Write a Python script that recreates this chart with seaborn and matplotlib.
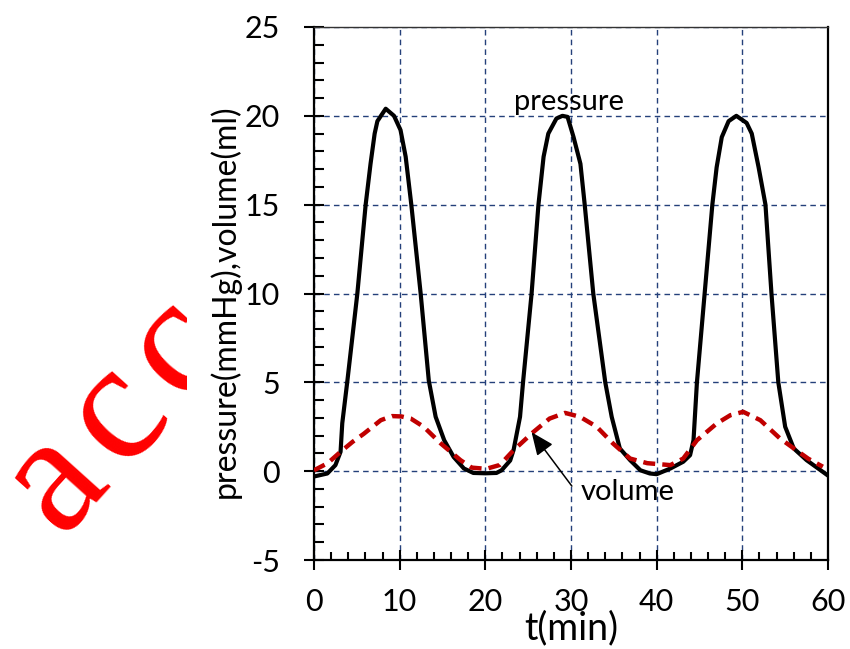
import matplotlib
matplotlib.use("Agg")
import matplotlib.pyplot as plt
from matplotlib.ticker import MultipleLocator
from matplotlib.transforms import Bbox, TransformedBbox
import seaborn as sns
import pandas as pd

# pressure trace (mmHg) over time (min)
pressure_t = [0, 1.56, 2.5, 3.1, 3.3, 3.9, 5.06, 6.03, 6.6, 7.08, 7.4, 8.37, 9.34, 10.1,
              10.7, 11.36, 12.45, 13.4, 14.2, 15.2, 16.3, 17.5, 18.6, 20.0, 21.3, 21.9,
              22.9, 23.3, 24.05, 24.4, 25.4, 26.2, 26.8, 27.35, 28.3, 29.0, 29.6, 30.3,
              31.1, 31.6, 32.6, 34.0, 34.75, 35.7, 36.9, 38.1, 39.2, 40.0, 41.6,
              43.1, 43.9, 44.3, 44.7, 45.6, 46.5, 47.0, 47.6, 48.4, 49.3, 50.5, 51.1,
              51.9, 52.7, 53.4, 54.2, 55.0, 56.0, 57.5, 59.0, 60.0]
pressure = [-0.3, -0.13, 0.34, 1.09, 2.7, 5.1, 10.0, 15.0, 17.3, 19.0, 19.7, 20.4, 20.0, 19.2,
            17.7, 15.0, 10.0, 5.1, 3.06, 1.74, 0.8, 0.15, -0.1, -0.12, -0.1, 0.05,
            0.6, 1.2, 3.06, 5.0, 10.0, 15.0, 17.7, 19.0, 19.85, 20.0, 19.94, 18.8,
            17.3, 15.0, 10.0, 5.0, 3.06, 1.28, 0.62, 0.05, -0.13, -0.17, 0.15,
            0.53, 0.9, 1.74, 5.0, 10.0, 15.0, 17.1, 18.8, 19.7, 20.0, 19.6, 19.0,
            17.1, 15.0, 10.0, 5.0, 2.5, 1.28, 0.62, 0.1, -0.25]

# volume trace (ml) over time (min)
volume_t = [0, 1.6, 3.1, 4.5, 5.8, 7.8, 9.1, 10.2, 11.3, 12.8, 14.8, 17.1, 18.4, 20.1,
            21.7, 23.3, 25.6, 27.5, 29.3, 31.05, 33.0, 34.9, 36.9, 38.9, 41.6, 43.1,
            44.7, 47.0, 48.6, 50.1, 52.1, 54.4, 56.3, 57.7, 59.4]
volume = [0.05, 0.45, 1.09, 1.65, 2.1, 2.87, 3.1, 3.08, 2.96, 2.5, 1.56, 0.62, 0.2, 0.13,
          0.35, 1.18, 2.2, 2.96, 3.28, 3.06, 2.5, 1.56, 0.71, 0.45, 0.34, 0.71,
          1.74, 2.68, 3.15, 3.34, 2.87, 1.84, 1.18, 0.7, 0.25]

x_ticks = [0, 10, 20, 30, 40, 50, 60]
y_ticks = [-5, 0, 5, 10, 15, 20, 25]

sns.set_theme(style="white")
plt.rcParams["font.family"] = ["Lato", "DejaVu Sans"]
plt.rcParams["axes.unicode_minus"] = False

fig = plt.figure(figsize=(8.5, 6.49), dpi=100)
ax = fig.add_axes([314 / 850, 1 - 560 / 649, (828 - 314) / 850, (560 - 27) / 649])

df_p = pd.DataFrame({"t": pressure_t, "v": pressure})
df_v = pd.DataFrame({"t": volume_t, "v": volume})

sns.lineplot(data=df_p, x="t", y="v", ax=ax, color="black", lw=3.0, zorder=3)
sns.lineplot(data=df_v, x="t", y="v", ax=ax, color="#C00000", lw=3.2,
             linestyle=(0, (2.7, 1.6)), zorder=4)
for ln in ax.lines:
    ln.set_solid_joinstyle("round")
    ln.set_solid_capstyle("round")

ax.set_xlim(0, 60)
ax.set_ylim(-5, 25)
ax.set_xticks(x_ticks)
ax.set_yticks(y_ticks)
ax.xaxis.set_minor_locator(MultipleLocator(2))
ax.yaxis.set_minor_locator(MultipleLocator(1))

ax.grid(True, which="major", color="#24407A", linestyle=(0, (4, 3)), lw=1.0)
ax.set_axisbelow(True)

for side in ["left", "bottom", "right"]:
    ax.spines[side].set_color("black")
    ax.spines[side].set_linewidth(1.6)
ax.spines["top"].set_color("#333333")
ax.spines["top"].set_linewidth(1.0)

ax.tick_params(axis="both", which="major", direction="inout", length=15, width=1.5,
               colors="black", labelsize=22)
ax.tick_params(axis="x", which="major", pad=13)
ax.tick_params(axis="y", which="major", pad=17)
ax.tick_params(axis="x", which="minor", direction="in", length=5.5, width=1.5, colors="black")
ax.tick_params(axis="y", which="minor", direction="in", length=7, width=1.5, colors="black")
ax.tick_params(bottom=True, left=True, which="both")

ax.set_xlabel("t(min)", fontsize=27, color="black")
ax.set_ylabel("pressure(mmHg),volume(ml)", fontsize=23, color="black")
ax.xaxis.set_label_coords(0.5, -0.094)
ax.yaxis.set_label_coords(-0.142, 0.486)

ax.text(29.8, 20.8, "pressure", fontsize=21, ha="center", va="center", color="black")
ax.annotate("", xy=(25.4, 2.19), xytext=(30.1, -0.84),
            arrowprops=dict(arrowstyle="-|>,head_length=0.7,head_width=0.3",
                            color="black", lw=1.1, mutation_scale=20,
                            shrinkA=0, shrinkB=0), zorder=5)
ax.text(36.6, -1.18, "volume", fontsize=21, ha="center", va="center", color="black")

# red "acc" stamp, letters spaced along a diagonal and cut at the label column
stamp_letters = ["a", "c", "c"]
stamp_x = [55, 117, 178]
stamp_y = [480, 413, 347]
clip = TransformedBbox(Bbox([[0, 0], [187 / 850, 1]]), fig.transFigure)
for ch, px, py in zip(stamp_letters, stamp_x, stamp_y):
    t = fig.text(px / 850, 1 - py / 649, ch, fontsize=122, color="red",
                 fontfamily=["Liberation Serif", "DejaVu Serif"], rotation=48,
                 ha="center", va="center", rotation_mode="anchor")
    t.set_clip_box(clip)
    t.set_clip_on(True)

fig.savefig("out.png", dpi=100)
